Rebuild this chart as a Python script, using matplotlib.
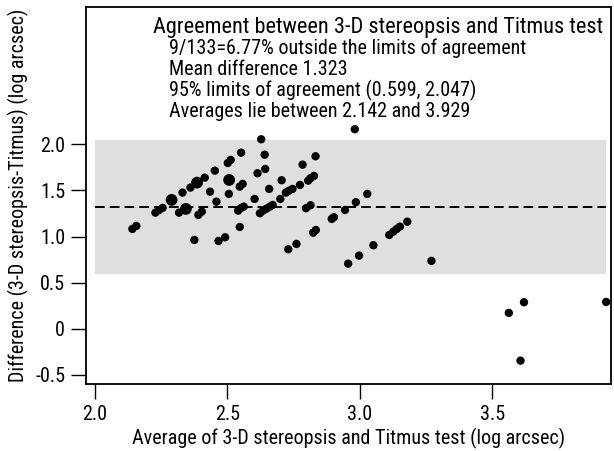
#!/usr/bin/env python3

# plot.py
#
# Bland-Altman plot: 3-D stereopsis vs Titmus test.
import matplotlib.pyplot as plt
import numpy as np

plt.rcParams['font.family'] = ['Roboto Condensed', 'DejaVu Sans']
plt.rcParams['font.stretch'] = 'condensed'

# Averages (log arcsec) and differences
average = [2.142, 2.157, 2.229, 2.243, 2.256, 2.290, 2.318, 2.344, 2.331, 2.361,
           2.386, 2.415, 2.376, 2.391, 2.404, 2.435, 2.453, 2.459, 2.467, 2.492,
           2.502, 2.513, 2.507, 2.506, 2.552, 2.547, 2.558, 2.603, 2.614, 2.628,
           2.641, 2.643, 2.658, 2.705, 2.700, 2.721, 2.733, 2.746, 2.774, 2.784,
           2.833, 2.805, 2.814, 2.827, 2.541, 2.552, 2.562, 2.623, 2.635, 2.648,
           2.661, 2.671, 2.797, 2.814, 2.547, 2.824, 2.834, 2.730, 2.761, 2.894,
           2.902, 2.944, 2.985, 3.028, 2.981, 3.111, 3.126, 3.139, 3.151, 3.179,
           3.051, 2.997, 2.956, 3.270, 3.562, 3.619, 3.606, 3.929]
difference = [1.082, 1.115, 1.259, 1.288, 1.310, 1.397, 1.259, 1.299, 1.476, 1.530,
              1.584, 1.638, 0.963, 1.234, 1.270, 1.486, 1.714, 1.378, 0.952, 0.992,
              1.797, 1.830, 1.613, 1.462, 1.909, 1.541, 1.570, 1.407, 1.686, 2.054,
              1.887, 1.732, 1.516, 1.610, 1.407, 1.476, 1.497, 1.516, 1.559, 1.779,
              1.870, 1.606, 1.632, 1.657, 1.281, 1.310, 1.324, 1.252, 1.281, 1.302,
              1.324, 1.342, 1.307, 1.339, 1.104, 1.042, 1.071, 0.862, 0.920, 1.191,
              1.209, 1.288, 1.372, 1.462, 2.163, 1.017, 1.053, 1.082, 1.107, 1.161,
              0.906, 0.793, 0.706, 0.736, 0.172, 0.288, -0.345, 0.291]
# Number of coincident observations at each mark
n_obs = [1, 1, 1, 1, 1, 2, 1, 2, 1, 1,
         2, 1, 1, 1, 1, 1, 1, 1, 1, 1,
         1, 1, 2, 1, 1, 1, 1, 1, 1, 1,
         1, 1, 1, 1, 1, 1, 1, 1, 1, 1,
         1, 1, 1, 1, 1, 1, 1, 1, 1, 1,
         1, 1, 1, 1, 1, 1, 1, 1, 1, 1,
         1, 1, 1, 1, 1, 1, 1, 1, 1, 1,
         1, 1, 1, 1, 1, 1, 1, 1]

MEAN_DIFF = 1.323
LIMITS = (0.599, 2.047)
X_TICKS = [2.0, 2.5, 3.0, 3.5]
X_TICKLABELS = ['2.0', '2.5', '3.0', '3.5']
Y_TICKS = [-0.5, 0, 0.5, 1.0, 1.5, 2.0]
Y_TICKLABELS = ['-0.5', '0', '0.5', '1.0', '1.5', '2.0']

INFO = ['Agreement between 3-D stereopsis and Titmus test',
        '9/133=6.77% outside the limits of agreement',
        'Mean difference 1.323',
        '95% limits of agreement (0.599, 2.047)',
        'Averages lie between 2.142 and 3.929']

FS = 14.5

fig = plt.figure(figsize=(6.14, 4.51), dpi=100)
ax = fig.add_axes([0.140, 0.1486, 0.855, 0.836])

# Limits of agreement band and mean difference line
x_lo, x_hi = 2.0, max(average)
ax.fill_between([x_lo, x_hi], LIMITS[0], LIMITS[1], color='#dfdfdf', lw=0, zorder=1)
ax.plot([x_lo, x_hi], [MEAN_DIFF, MEAN_DIFF], color='black', lw=1.4,
        dashes=(5, 2.6), zorder=2)
ax.scatter(average, difference, s=np.array(n_obs) * 36, color='black', lw=0, zorder=3)

ax.set_xlim(1.967, 3.947)
ax.set_ylim(-0.598, 3.488)
ax.set_xticks(X_TICKS)
ax.set_xticklabels(X_TICKLABELS)
ax.set_yticks(Y_TICKS)
ax.set_yticklabels(Y_TICKLABELS)
ax.tick_params(direction='out', length=11, width=1, labelsize=FS, pad=4)
for spine in ax.spines.values():
    spine.set_linewidth(1.3)

ax.set_xlabel('Average of 3-D stereopsis and Titmus test (log arcsec)', fontsize=FS, labelpad=3)
ax.set_ylabel('Difference (3-D stereopsis-Titmus) (log arcsec)', fontsize=FS, labelpad=4)

# Summary text block
ax.text(0.128, 0.932, INFO[0], transform=ax.transAxes, fontsize=16, va='baseline')
for i, line in enumerate(INFO[1:]):
    ax.text(0.159, 0.875 - i * 0.0557, line, transform=ax.transAxes, fontsize=FS, va='baseline')

fig.savefig('out.png', dpi=100)
